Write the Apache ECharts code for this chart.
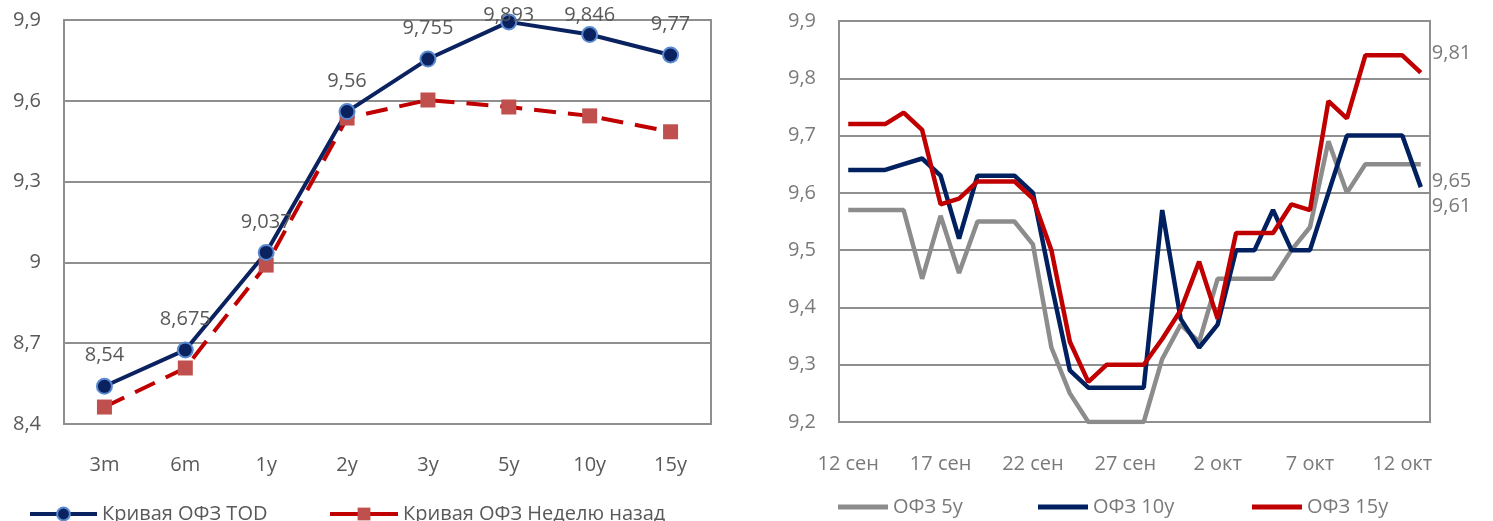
<!DOCTYPE html>
<html>
<head>
<meta charset="utf-8">
<script src="https://cdn.jsdelivr.net/npm/echarts@6/dist/echarts.min.js"></script>
<style>
  html, body { margin: 0; padding: 0; background: #fff; }
  #chart { width: 1493px; height: 521px; }
</style>
</head>
<body>
<div id="chart"></div>
<script>
// левый график: кривая ОФЗ
const tenors = ['3m', '6m', '1y', '2y', '3y', '5y', '10y', '15y'];
const curveToday = [8.54, 8.675, 9.037, 9.56, 9.755, 9.893, 9.846, 9.77];
const curveWeekAgo = [8.463, 8.608, 8.99, 9.536, 9.603, 9.577, 9.544, 9.485];

// правый график: доходности по дням
const days = [
  '12 сен', '13 сен', '14 сен', '15 сен', '16 сен', '17 сен', '18 сен', '19 сен',
  '20 сен', '21 сен', '22 сен', '23 сен', '24 сен', '25 сен', '26 сен', '27 сен',
  '28 сен', '29 сен', '30 сен', '1 окт', '2 окт', '3 окт', '4 окт', '5 окт',
  '6 окт', '7 окт', '8 окт', '9 окт', '10 окт', '11 окт', '12 окт', '13 окт'
];
const ofz5 = [9.57, 9.57, 9.57, 9.57, 9.45, 9.56, 9.46, 9.55, 9.55, 9.55, 9.51, 9.33, 9.25, 9.2, 9.2, 9.2,
  9.2, 9.31, 9.37, 9.34, 9.45, 9.45, 9.45, 9.45, 9.5, 9.54, 9.69, 9.6, 9.65, 9.65, 9.65, 9.65];
const ofz10 = [9.64, 9.64, 9.64, 9.65, 9.66, 9.63, 9.52, 9.63, 9.63, 9.63, 9.6, 9.44, 9.29, 9.26, 9.26, 9.26,
  9.26, 9.57, 9.38, 9.33, 9.37, 9.5, 9.5, 9.57, 9.5, 9.5, 9.6, 9.7, 9.7, 9.7, 9.7, 9.61];
const ofz15 = [9.72, 9.72, 9.72, 9.74, 9.71, 9.58, 9.59, 9.62, 9.62, 9.62, 9.59, 9.5, 9.34, 9.27, 9.3, 9.3,
  9.3, 9.345, 9.395, 9.48, 9.38, 9.53, 9.53, 9.53, 9.58, 9.57, 9.76, 9.73, 9.84, 9.84, 9.84, 9.81];

const FONT = '"Open Sans", "DejaVu Sans", sans-serif';
const GRID_COLOR = '#8f8f8f';
const comma = v => String(v).replace('.', ',');

const chart = echarts.init(document.getElementById('chart'));

function legendItem(name, left, top, width, color, icon) {
  const item = {
    data: [name], left: left, top: top, padding: 0,
    itemWidth: width, itemHeight: 16,
    lineStyle: { width: 4, type: 'solid' },
    textStyle: { fontFamily: FONT, fontSize: 20, color: color }
  };
  if (icon) {
    item.icon = icon;
    item.itemHeight = 5;
  }
  return item;
}

const valueAxis = (grid, min, max, step, color) => ({
  type: 'value', gridIndex: grid, min: min, max: max, interval: step,
  axisLine: { show: false }, axisTick: { show: false },
  axisLabel: {
    margin: 23, fontFamily: FONT, fontSize: 20, color: color,
    formatter: v => comma(+v.toFixed(1))
  },
  splitLine: { lineStyle: { color: GRID_COLOR, width: 2 } }
});

const endLabel = dy => ({
  show: true, distance: 5, offset: [6, dy],
  fontFamily: FONT, fontSize: 20, color: '#7a7a7a',
  formatter: p => comma(p.value)
});

chart.setOption({
  animation: false,
  grid: [
    { left: 64, top: 20, width: 647, height: 404, show: true, borderColor: GRID_COLOR, borderWidth: 2 },
    { left: 839, top: 21, width: 591, height: 401, show: true, borderColor: GRID_COLOR, borderWidth: 2 }
  ],
  xAxis: [
    {
      type: 'category', gridIndex: 0, data: tenors,
      axisLine: { show: false }, axisTick: { show: false },
      axisLabel: { margin: 31, fontFamily: FONT, fontSize: 20, color: '#595959' }
    },
    {
      type: 'category', gridIndex: 1, data: days,
      axisLine: { show: false }, axisTick: { show: false },
      axisLabel: { interval: 4, margin: 32, fontFamily: FONT, fontSize: 20, color: '#7a7a7a' }
    }
  ],
  yAxis: [
    valueAxis(0, 8.4, 9.9, 0.3, '#595959'),
    valueAxis(1, 9.2, 9.9, 0.1, '#7a7a7a')
  ],
  legend: [
    legendItem('Кривая ОФЗ TOD', 28, 504, 67, '#595959'),
    legendItem('Кривая ОФЗ Неделю назад', 328, 504, 68, '#595959'),
    legendItem('ОФЗ 5y', 838, 497, 50, '#7a7a7a', 'rect'),
    legendItem('ОФЗ 10y', 1038, 497, 50, '#7a7a7a', 'rect'),
    legendItem('ОФЗ 15y', 1252, 497, 50, '#7a7a7a', 'rect')
  ],
  series: [
    {
      name: 'Кривая ОФЗ Неделю назад', type: 'line', xAxisIndex: 0, yAxisIndex: 0,
      data: curveWeekAgo,
      symbol: 'rect', symbolSize: 15,
      itemStyle: { color: '#c0504d', borderWidth: 0 },
      lineStyle: { color: '#c00000', width: 4, type: [22, 12] }
    },
    {
      name: 'Кривая ОФЗ TOD', type: 'line', xAxisIndex: 0, yAxisIndex: 0,
      data: curveToday,
      symbol: 'circle', symbolSize: 15,
      itemStyle: { color: '#0b2260', borderColor: '#5a8ad0', borderWidth: 2 },
      lineStyle: { color: '#0b2260', width: 4 },
      label: {
        show: true, position: 'top', distance: 12,
        fontFamily: FONT, fontSize: 20, color: '#595959',
        formatter: p => comma(p.value)
      }
    },
    {
      name: 'ОФЗ 5y', type: 'line', xAxisIndex: 1, yAxisIndex: 1,
      data: ofz5, showSymbol: false,
      itemStyle: { color: '#8c8c8c' },
      lineStyle: { color: '#8c8c8c', width: 4.5 },
      endLabel: endLabel(17)
    },
    {
      name: 'ОФЗ 10y', type: 'line', xAxisIndex: 1, yAxisIndex: 1,
      data: ofz10, showSymbol: false,
      itemStyle: { color: '#002060' },
      lineStyle: { color: '#002060', width: 4.5 },
      endLabel: endLabel(19)
    },
    {
      name: 'ОФЗ 15y', type: 'line', xAxisIndex: 1, yAxisIndex: 1,
      data: ofz15, showSymbol: false,
      itemStyle: { color: '#c00000' },
      lineStyle: { color: '#c00000', width: 4.5 },
      endLabel: endLabel(-19)
    }
  ]
});

// подписи у верхнего края не должны уходить за пределы картинки
const todayData = curveToday.map((v, i) => {
  const py = chart.convertToPixel({ gridIndex: 0 }, [i, v])[1];
  return { value: v, label: { distance: Math.min(12, py - 34) } };
});
chart.setOption({ series: [{}, { data: todayData }] });
</script>
</body>
</html>
